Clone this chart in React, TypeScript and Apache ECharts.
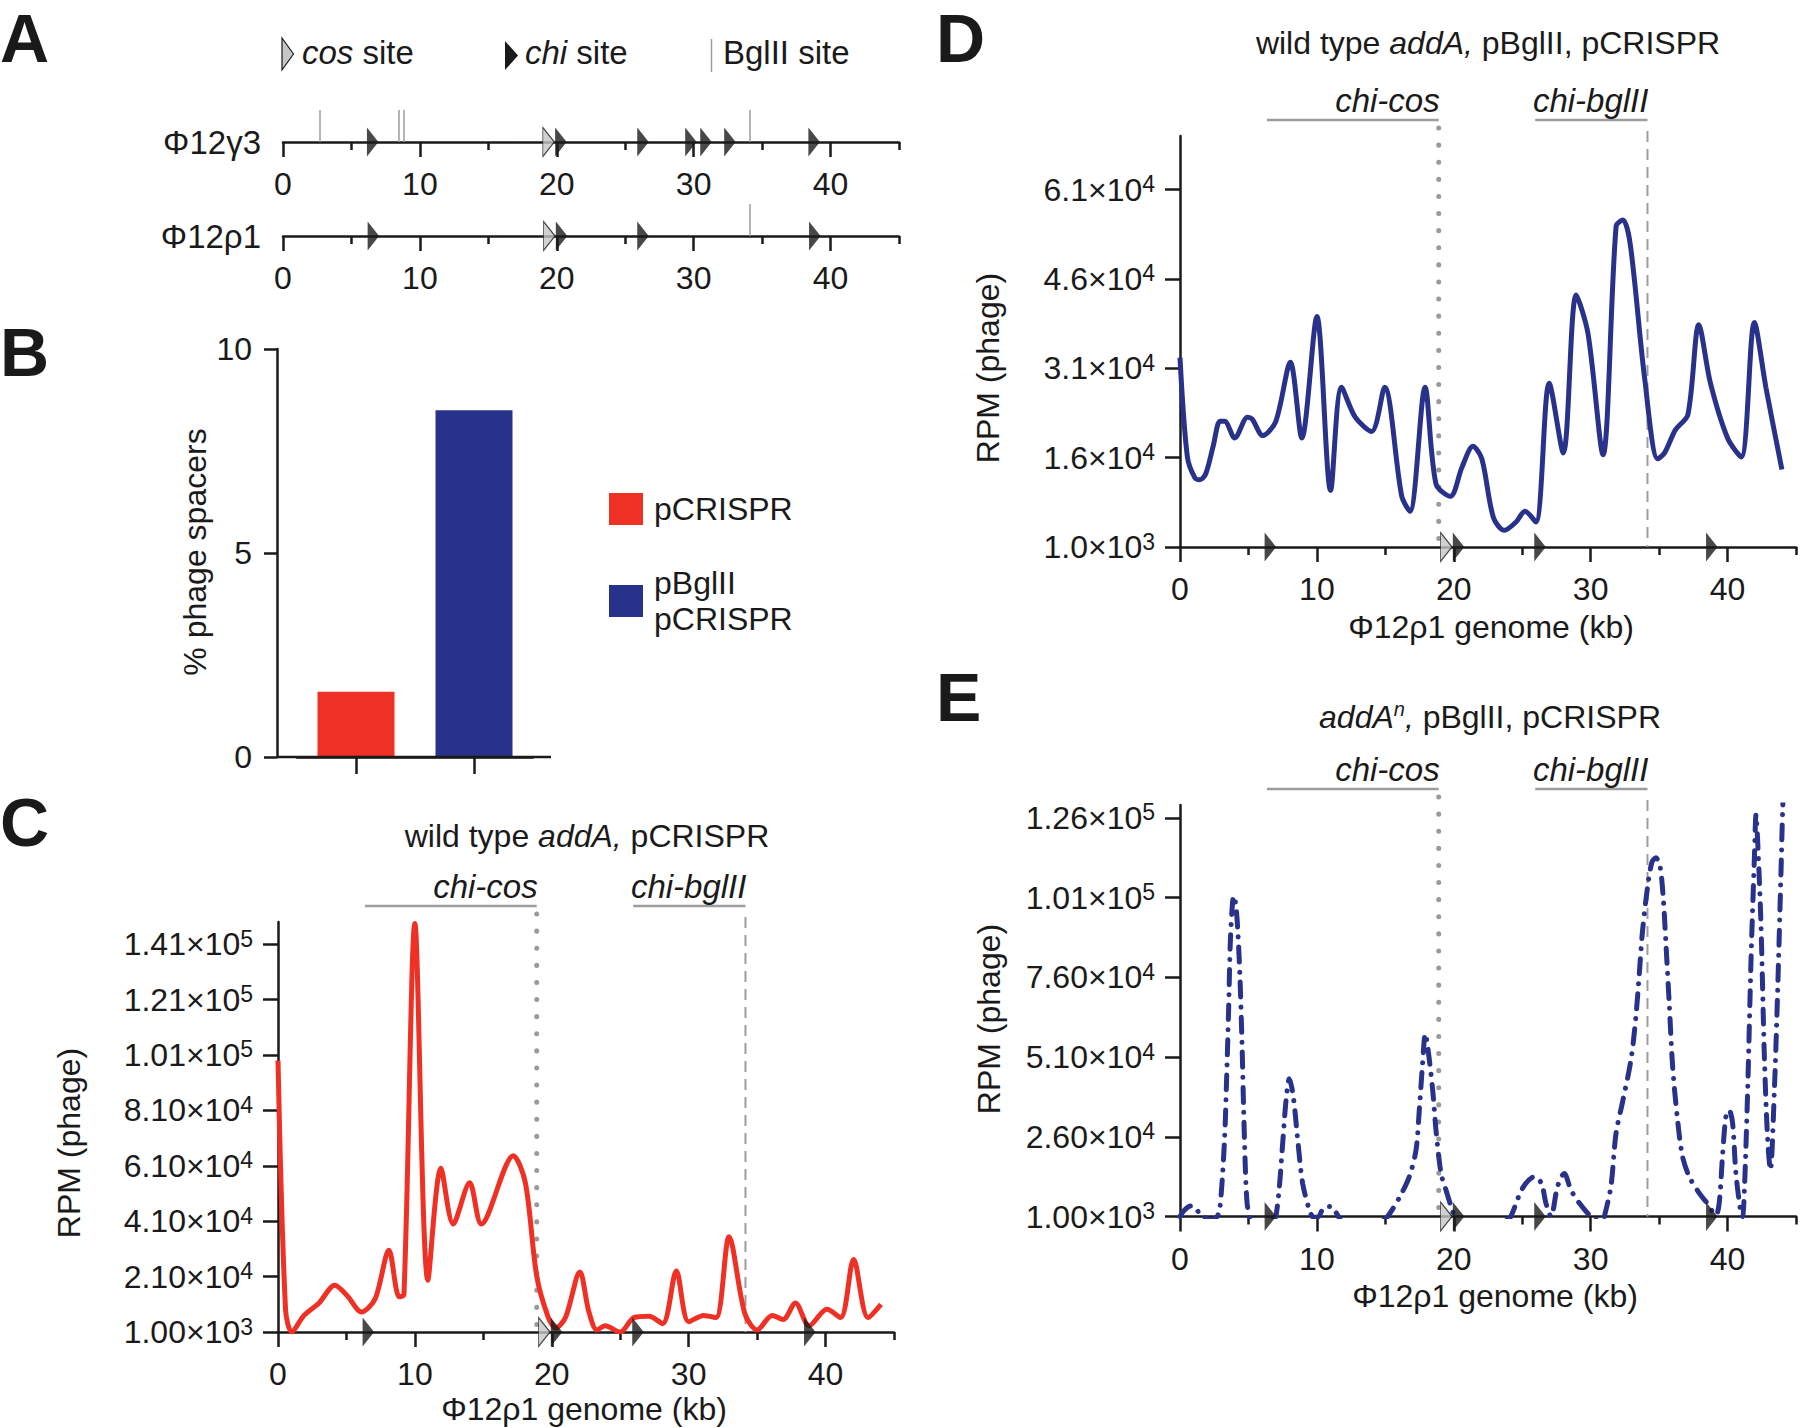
import React, { useEffect, useRef } from 'react';
import * as echarts from 'echarts';

const FONT = '"Liberation Sans", Arial, Helvetica, sans-serif';
const INK = '#1a1a1a';
const RED = '#ee3124';
const BLUE = '#29328a';
const GREY = '#9d9d9d';
const COS_FILL = '#c6c6c6';

// ---------------- data ----------------
const kbMax = 45;
const kbMajorTicks = [0, 10, 20, 30, 40];
const kbMinorTicks = [5, 15, 25, 35, 45];

// Panel A: genome maps
const chiSitesG3 = [6.55, 20.3, 26.3, 29.8, 30.9, 32.65, 38.8];
const cosSitesG3 = [19.4];
const bglSitesG3 = [2.7, 8.42, 8.83, 34.1];
const chiSitesP1 = [6.6, 20.35, 26.3, 38.85];
const cosSitesP1 = [19.45];
const bglSitesP1 = [34.1];

// Panel B: % phage spacers
const spacerNames = ['pCRISPR', 'pBglII\npCRISPR'];
const spacerPct = [1.6, 8.5];
const spacerAxis = [0, 10, 5]; // min, max, interval

// chi-cos / chi-bglII brackets (kb)
const chiCosSpan = [6.35, 18.9];
const chiBglSpan = [25.95, 34.15];

// Panel C: wild type addA, pCRISPR
const yTicksC = [1000, 21000, 41000, 61000, 81000, 101000, 121000, 141000];
const yRangeC = [1000, 149000];
const kbC = [0, 0.55, 1.0, 1.9, 3.0, 4.15, 5.07, 6.1, 7.1, 8.1, 8.85, 9.2, 10.0, 10.95, 11.9, 12.8, 14.0, 14.85, 17.2, 18.07,
  18.9, 19.75, 20.3, 21.0, 22.05, 22.7, 23.3, 23.9, 25.0, 26.0, 27.1, 28.1, 29.1, 30.0, 31.1, 32.0, 32.95, 34.1, 35.0, 36.1,
  36.9, 37.8, 38.8, 40.1, 41.1, 42.05, 43.1, 44.05];
const rpmC = [99000, 9200, 1000, 7000, 11500, 17900, 14000, 8200, 13000, 30500, 13700, 14500, 148500, 19700, 60100, 40000, 54900, 40000, 64600, 54900,
  21200, 6200, 2500, 6200, 22700, 8500, 1750, 3250, 1000, 6200, 6700, 4000, 23000, 4700, 7000, 6200, 35400, 7700, 1750, 7000,
  5500, 11500, 3250, 9200, 6200, 27200, 6200, 11000];

// Panel D: wild type addA, pBglII, pCRISPR
const yTicksD = [1000, 16000, 31000, 46000, 61000];
const yRangeD = [1000, 70000];
const kbD = [0, 0.54, 1.09, 1.46, 1.88, 2.42, 2.92, 3.26, 4.0, 4.93, 5.26, 6.05, 7.0, 8.06, 8.9, 10.0, 11.0, 11.8, 12.8, 14.0,
  14.95, 16.2, 16.8, 17.9, 18.7, 19.75, 20.6, 21.4, 22.05, 22.9, 23.7, 24.55, 25.2, 26.0, 26.97, 28.0, 28.94, 29.8, 30.9, 31.86,
  32.36, 32.9, 33.95, 34.9, 35.4, 36.2, 37.1, 37.9, 38.75, 40.0, 41.0, 41.96, 42.8, 43.97];
const rpmD = [32800, 16100, 12600, 12300, 13300, 17900, 22100, 22100, 19300, 22800, 22500, 19700, 22100, 32000, 19300, 39700, 10500, 27800, 22800, 20400,
  27800, 9500, 7000, 27800, 11600, 9500, 14400, 17900, 15800, 5900, 3800, 5200, 7000, 5200, 28500, 16800, 43300, 36900, 16500, 54900,
  55900, 51700, 29200, 15800, 16800, 20700, 23200, 38300, 28500, 19300, 16100, 38700, 27800, 14000];

// Panel E: addA^n, pBglII, pCRISPR  (null = trace below the axis minimum, not drawn)
const yTicksE = [1000, 26000, 51000, 76000, 101000, 126000];
const yRangeE = [1000, 130000];
const kbE = [0, 0.3, 0.8, 1.17, 1.45, 1.7, 2.2, 2.65, 2.9, 3.24,
  3.41, 3.55, 3.68, 3.85, 3.95, 4.09, 4.21, 4.38, 4.53, 4.65,
  4.77, 4.9, 5.1, 6.0, 6.8, 7.0, 7.26, 7.5, 7.75, 7.99,
  8.28, 8.6, 8.96, 9.45, 9.75, 10.1, 10.5, 11.0, 11.4, 11.7,
  13.0, 14.9, 15.17, 16.0, 16.75, 17.24, 17.48, 17.72, 17.92, 18.1,
  18.46, 18.7, 19.07, 19.43, 19.8, 20.1, 22.0, 23.9, 24.17, 25.03,
  25.9, 26.4, 26.73, 27.1, 27.58, 28.07, 28.56, 29.17, 30.0, 30.4,
  30.7, 31.0, 31.48, 31.85, 32.33, 32.94, 33.3, 33.55, 33.79, 34.15,
  34.47, 34.76, 35.06, 35.3, 35.5, 35.74, 35.99, 36.35, 36.71, 37.2,
  37.93, 38.42, 39.15, 39.39, 39.63, 39.88, 40.12, 40.37, 40.61, 40.98,
  41.1, 41.23, 41.47, 41.72, 41.96, 42.08, 42.2, 42.44, 42.69, 42.93,
  43.13, 43.42, 43.66, 43.9, 44.03, 44.15];
const rpmE = [1000, 2900, 4300, 3600, 1600, 900, 0, 700, 3000, 23900,
  44800, 65600, 87500, 100000, 101500, 97900, 91600, 76000, 55200, 34300,
  16600, 5200, 0, null, 0, 1000, 10400, 23900, 37500, 44200,
  38500, 25000, 11400, 3100, 800, 900, 3800, 4100, 2200, 0,
  null, 0, 1000, 6700, 13500, 21800, 34300, 48900, 58300, 54100,
  40600, 28100, 14500, 9300, 4100, 0, null, 0, 1000, 9900,
  13500, 11400, 5200, 1000, 10400, 14500, 9300, 5200, 1000, 0,
  null, 1000, 10400, 27000, 36900, 50000, 63500, 77000, 90600, 104100,
  112000, 113500, 110900, 101000, 86400, 67700, 47900, 31200, 19800, 13500,
  8300, 5700, 1500, 5200, 19800, 32300, 34300, 30200, 14500, 2000,
  1000, 9300, 40600, 82300, 113500, 127000, 118700, 92700, 51000, 25000,
  15600, 40600, 71800, 108300, 129000, 140000];

// ---------------- helpers ----------------
const sciLabel = (dec: number) => (v: number) => {
  const e = Math.floor(Math.log10(v) + 1e-9);
  const m = v / Math.pow(10, e);
  return `{a|${m.toFixed(dec)}×10}{s|${e}}`;
};
const sciRich = {
  a: { fontSize: 32, lineHeight: 34, fontFamily: FONT, color: INK },
  s: { fontSize: 23, lineHeight: 12, verticalAlign: 'top', fontFamily: FONT, color: INK },
};

const axisLineStyle = { color: INK, width: 2.5 };

const kbAxes = (gridIndex: number) => [
  {
    type: 'value', gridIndex, min: 0, max: kbMax, position: 'bottom',
    axisLine: { show: true, onZero: false, lineStyle: axisLineStyle },
    axisTick: { show: true, customValues: kbMajorTicks, length: 15, lineStyle: axisLineStyle },
    axisLabel: { show: true, customValues: kbMajorTicks, margin: 42, fontSize: 32, color: INK, fontFamily: FONT, verticalAlign: 'middle' },
    splitLine: { show: false },
  },
  {
    type: 'value', gridIndex, min: 0, max: kbMax, position: 'bottom',
    axisLine: { show: false, onZero: false },
    axisTick: { show: true, customValues: kbMinorTicks, length: 8, lineStyle: axisLineStyle },
    axisLabel: { show: false },
    splitLine: { show: false },
  },
];

const rpmAxis = (gridIndex: number, range: number[], ticks: number[], dec: number) => ({
  type: 'value', gridIndex, min: range[0], max: range[1],
  axisLine: { show: true, lineStyle: axisLineStyle },
  axisTick: { show: true, customValues: ticks, length: 15, lineStyle: axisLineStyle },
  axisLabel: { show: true, customValues: ticks, margin: 25, formatter: sciLabel(dec), rich: sciRich, color: INK, fontFamily: FONT },
  splitLine: { show: false },
});

const arrowSeries = (xi: number, yi: number, sites: number[], y: number, cos: boolean, extra: any = {}) => ({
  type: 'scatter', xAxisIndex: xi, yAxisIndex: yi,
  data: sites.map((s) => [s, y]),
  symbol: 'triangle', symbolSize: [29, 11.5], symbolRotate: -90,
  itemStyle: cos ? { color: COS_FILL, borderColor: INK, borderWidth: 1.2 } : { color: INK },
  clip: false, silent: true, z: 6, ...extra,
});

const bglMarks = (sites: number[]) => ({
  markLine: {
    silent: true, symbol: ['none', 'none'], label: { show: false },
    lineStyle: { color: GREY, width: 1.5, type: 'solid' },
    emphasis: { disabled: true },
    data: sites.map((x) => [{ coord: [x, 0] }, { coord: [x, 0.8] }]),
  },
});

const txt = (x: number, y: number, text: string, o: any = {}) => ({
  type: 'text', x, y, rotation: o.rotation || 0, silent: true, z: 10,
  style: {
    text, x: 0, y: 0, fill: INK,
    fontSize: o.fontSize || 32, fontFamily: FONT,
    fontStyle: o.fontStyle || 'normal', fontWeight: o.fontWeight || 'normal',
    align: o.align || 'center', verticalAlign: 'middle',
    textAlign: o.align || 'center', textVerticalAlign: 'middle',
    rich: o.rich,
  },
});

const titleRich = {
  n: { fontSize: 32, lineHeight: 36, fontFamily: FONT, color: INK },
  i: { fontSize: 32, lineHeight: 36, fontFamily: FONT, fontStyle: 'italic', color: INK },
  sup: { fontSize: 20, lineHeight: 14, fontFamily: FONT, fontStyle: 'italic', verticalAlign: 'top', color: INK },
};

const seg = (x1: number, y1: number, x2: number, y2: number, style: any) => ({
  type: 'line', silent: true, z: 1, shape: { x1, y1, x2, y2 }, style: { stroke: GREY, lineWidth: 2.5, ...style },
});

function bracketGraphics(chart: any, xi: number, yi: number, range: number[]) {
  const px = (x: number, y: number) => chart.convertToPixel({ xAxisIndex: xi, yAxisIndex: yi }, [x, y]) as number[];
  const top = px(0, range[1])[1];
  const bottom = px(0, range[0])[1];
  const xc0 = px(chiCosSpan[0], range[0])[0];
  const xc1 = px(chiCosSpan[1], range[0])[0];
  const xb0 = px(chiBglSpan[0], range[0])[0];
  const xb1 = px(chiBglSpan[1], range[0])[0];
  const ly = top - 16;
  return [
    seg(xc0, ly, xc1, ly, {}),
    seg(xb0, ly, xb1, ly, {}),
    seg(xc1, top - 8, xc1, bottom - 3, { lineWidth: 5, lineDash: [0.1, 17], lineCap: 'round', stroke: '#9a9a9a' }),
    seg(xb1, top - 5, xb1, bottom, { lineWidth: 2, lineDash: [11, 7] }),
    txt(xc1 + 1, ly - 20, 'chi-cos', { align: 'right', fontStyle: 'italic', fontSize: 33 }),
    txt(xb1 + 1, ly - 20, 'chi-bglII', { align: 'right', fontStyle: 'italic', fontSize: 33 }),
  ];
}

function buildOption() {
  const grids = [
    { left: 283, top: 102, width: 616, height: 40 }, // A γ3
    { left: 283, top: 196, width: 616, height: 40 }, // A ρ1
    { left: 297, top: 349, width: 236, height: 408 }, // B
    { left: 278, top: 922, width: 616, height: 410 }, // C
    { left: 1180, top: 136, width: 616, height: 411 }, // D
    { left: 1180, top: 805, width: 616, height: 411.5 }, // E
  ].map((g) => ({ ...g, containLabel: false, outerBoundsMode: 'none' }));

  const xAxis = [
    ...kbAxes(0), // 0,1
    ...kbAxes(1), // 2,3
    {
      type: 'category', gridIndex: 2, data: spacerNames,
      axisLine: { show: true, onZero: false, lineStyle: axisLineStyle },
      axisTick: { show: true, alignWithLabel: true, length: 17, lineStyle: axisLineStyle },
      axisLabel: { show: false }, splitLine: { show: false },
    }, // 4
    ...kbAxes(3), // 5,6
    ...kbAxes(4), // 7,8
    ...kbAxes(5), // 9,10
  ];

  const yAxis = [
    { type: 'value', gridIndex: 0, min: 0, max: 1, show: false },
    { type: 'value', gridIndex: 1, min: 0, max: 1, show: false },
    {
      type: 'value', gridIndex: 2, min: spacerAxis[0], max: spacerAxis[1], interval: spacerAxis[2], offset: 20,
      axisLine: { show: true, lineStyle: axisLineStyle },
      axisTick: { show: true, length: 13, lineStyle: axisLineStyle },
      axisLabel: { show: true, margin: 25, fontSize: 32, color: INK, fontFamily: FONT },
      splitLine: { show: false },
    },
    rpmAxis(3, yRangeC, yTicksC, 2),
    rpmAxis(4, yRangeD, yTicksD, 1),
    rpmAxis(5, yRangeE, yTicksE, 2),
  ];

  const lineBase = { type: 'line', showSymbol: false, symbol: 'none', smooth: 0.3, silent: true, z: 3, connectNulls: false };

  const series: any[] = [
    // A
    arrowSeries(0, 0, chiSitesG3, 0, false, bglMarks(bglSitesG3)),
    arrowSeries(0, 0, cosSitesG3, 0, true),
    arrowSeries(2, 1, chiSitesP1, 0, false, bglMarks(bglSitesP1)),
    arrowSeries(2, 1, cosSitesP1, 0, true),
    // B
    ...spacerNames.map((name, i) => ({
      name, type: 'bar', xAxisIndex: 4, yAxisIndex: 2, barWidth: 77, barGap: '-100%', silent: true,
      itemStyle: { color: i === 0 ? RED : BLUE },
      data: spacerPct.map((v, j) => (j === i ? v : '-')),
    })),
    // C
    { ...lineBase, xAxisIndex: 5, yAxisIndex: 3, data: kbC.map((x, i) => [x, rpmC[i]]), lineStyle: { color: RED, width: 5 } },
    arrowSeries(5, 3, chiSitesP1, yRangeC[0], false),
    arrowSeries(5, 3, cosSitesP1, yRangeC[0], true),
    // D
    { ...lineBase, xAxisIndex: 7, yAxisIndex: 4, data: kbD.map((x, i) => [x, rpmD[i]]), lineStyle: { color: BLUE, width: 5 } },
    arrowSeries(7, 4, chiSitesP1, yRangeD[0], false),
    arrowSeries(7, 4, cosSitesP1, yRangeD[0], true),
    // E
    {
      ...lineBase, xAxisIndex: 9, yAxisIndex: 5,
      data: kbE.map((x, i) => [x, rpmE[i] === null ? null : rpmE[i]]),
      lineStyle: { color: BLUE, width: 5, type: [15, 10, 0.1, 10], cap: 'round' },
    },
    arrowSeries(9, 5, chiSitesP1, yRangeE[0], false),
    arrowSeries(9, 5, cosSitesP1, yRangeE[0], true),
  ];

  return {
    animation: false,
    backgroundColor: '#ffffff',
    textStyle: { fontFamily: FONT, color: INK },
    grid: grids,
    xAxis,
    yAxis,
    legend: {
      data: spacerNames, orient: 'vertical', left: 604, top: 486,
      itemWidth: 34, itemHeight: 32, itemGap: 38, icon: 'rect', selectedMode: false,
      textStyle: { fontSize: 32, fontFamily: FONT, color: INK, lineHeight: 36, padding: [0, 0, 0, 6] },
    },
    series,
  };
}

function staticGraphics(chart: any) {
  const letter = (x: number, y: number, t: string) => txt(x, y, t, { align: 'left', fontSize: 68, fontWeight: 'bold' });
  const yB0 = (chart.convertToPixel({ xAxisIndex: 4, yAxisIndex: 2 }, [0, 0]) as number[])[1];
  const rot = Math.PI / 2;
  return [
    letter(0, 38, 'A'),
    letter(0, 352, 'B'),
    letter(0, 822, 'C'),
    letter(936, 38, 'D'),
    letter(936, 697, 'E'),
    // A legend
    { type: 'polygon', silent: true, shape: { points: [[282, 38], [293.5, 54], [282, 70]] }, style: { fill: COS_FILL, stroke: INK, lineWidth: 1.2 } },
    txt(302, 52, '{i|cos}{n| site}', { align: 'left', rich: { i: { ...titleRich.i, fontSize: 33 }, n: { ...titleRich.n, fontSize: 33 } } }),
    { type: 'polygon', silent: true, shape: { points: [[505, 41], [518, 55.5], [505, 70]] }, style: { fill: INK } },
    txt(525, 52, '{i|chi}{n| site}', { align: 'left', rich: { i: { ...titleRich.i, fontSize: 33 }, n: { ...titleRich.n, fontSize: 33 } } }),
    seg(711.5, 39, 711.5, 72, { lineWidth: 1.5, stroke: GREY }),
    txt(723, 52, 'BglII site', { align: 'left', fontSize: 33 }),
    txt(261, 142.5, 'Φ12γ3', { align: 'right', fontSize: 33 }),
    txt(261, 236.5, 'Φ12ρ1', { align: 'right', fontSize: 33 }),
    // B
    txt(195, 552, '% phage spacers', { rotation: rot }),
    { type: 'line', silent: true, z: 5, shape: { x1: 277, y1: yB0, x2: 551, y2: yB0 }, style: { stroke: INK, lineWidth: 2.5 } },
    // C
    txt(587, 836, '{n|wild type }{i|addA,}{n| pCRISPR}', { rich: titleRich }),
    txt(69, 1143, 'RPM (phage)', { rotation: rot }),
    txt(584, 1409, 'Φ12ρ1 genome (kb)'),
    // D
    txt(1488, 43, '{n|wild type }{i|addA,}{n| pBglII, pCRISPR}', { rich: titleRich }),
    txt(988, 368, 'RPM (phage)', { rotation: rot }),
    txt(1491, 627, 'Φ12ρ1 genome (kb)'),
    // E
    txt(1490, 717, '{i|addA}{sup|n}{i|,}{n| pBglII, pCRISPR}', { rich: titleRich }),
    txt(989, 1019, 'RPM (phage)', { rotation: rot }),
    txt(1495, 1296, 'Φ12ρ1 genome (kb)'),
  ];
}

export default function App() {
  const ref = useRef<HTMLDivElement>(null);
  useEffect(() => {
    document.body.style.margin = '0';
    const chart = echarts.init(ref.current as HTMLDivElement, null, { renderer: 'svg' });
    chart.setOption(buildOption() as any);
    const graphics = [
      ...staticGraphics(chart),
      ...bracketGraphics(chart, 5, 3, yRangeC),
      ...bracketGraphics(chart, 7, 4, yRangeD),
      ...bracketGraphics(chart, 9, 5, yRangeE),
    ];
    chart.setOption({ graphic: graphics } as any);
    return () => chart.dispose();
  }, []);
  return <div ref={ref} style={{ position: 'absolute', left: 0, top: 0, width: 1800, height: 1428, background: '#fff' }} />;
}
